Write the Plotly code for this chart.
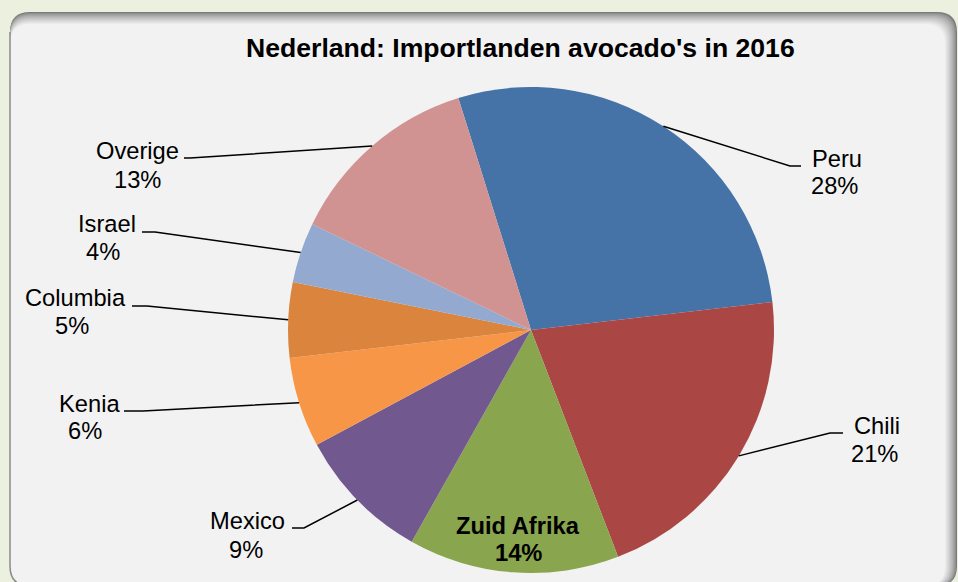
import math
import plotly.graph_objects as go

# ---------------- data ----------------
countries = ["Peru", "Chili", "Zuid Afrika", "Mexico", "Kenia", "Columbia", "Israel", "Overige"]
shares = [28, 21, 14, 9, 6, 5, 4, 13]
title_text = "Nederland: Importlanden avocado's in 2016"

# ---------------- style / layout ----------------
slice_colors = ["#4572A7", "#AA4643", "#89A54E", "#71588F", "#F79646", "#DB843D", "#93A9CF", "#D19392"]
W, H = 958, 582
CX, CY, R = 531, 330, 243          # pie centre / radius in px
ROTATION = -17.4                   # start angle (deg, clockwise from 12 o'clock)
FONT = "Arial, Liberation Sans, sans-serif"
LABEL_SIZE = 23.7
TITLE_SIZE = 26.6

# per-label placement: name centre, percent centre, elbow, line end (px)
label_layout = {
    "Peru":     dict(name=(837, 159), pct=(834, 186), elbow=(790, 166), end=(801, 166)),
    "Chili":    dict(name=(877, 426), pct=(874, 454), elbow=(830, 433), end=(843, 433)),
    "Mexico":   dict(name=(248, 521), pct=(246, 550), elbow=(304, 528), end=(292, 528)),
    "Kenia":    dict(name=(89, 404),  pct=(85, 431),  elbow=(143, 411), end=(124, 411)),
    "Columbia": dict(name=(75, 298),  pct=(72, 326),  elbow=(147, 306), end=(132, 306)),
    "Israel":   dict(name=(107, 224), pct=(103, 252), elbow=(155, 232), end=(142, 232)),
    "Overige":  dict(name=(137, 151), pct=(137, 180), elbow=(190, 158), end=(184, 158)),
}
inside_label = {"Zuid Afrika": dict(name=(518, 526), pct=(518, 553))}


def px(x):
    return x / W


def py(y):
    return 1 - y / H


fig = go.Figure()

fig.add_trace(go.Pie(
    labels=countries,
    values=shares,
    sort=False,
    direction="clockwise",
    rotation=ROTATION,
    marker=dict(colors=slice_colors, line=dict(width=0)),
    textinfo="none",
    hoverinfo="label+percent",
    showlegend=False,
    domain=dict(x=[px(CX - R), px(CX + R)], y=[py(CY + R), py(CY - R)]),
))

# ---------------- panel background with inner shadow ----------------
def rrect(x0, y0, x1, y1, r):
    return (f"M {px(x0 + r)},{py(y0)} L {px(x1 - r)},{py(y0)} "
            f"Q {px(x1)},{py(y0)} {px(x1)},{py(y0 + r)} "
            f"L {px(x1)},{py(y1 - r)} Q {px(x1)},{py(y1)} {px(x1 - r)},{py(y1)} "
            f"L {px(x0 + r)},{py(y1)} Q {px(x0)},{py(y1)} {px(x0)},{py(y1 - r)} "
            f"L {px(x0)},{py(y0 + r)} Q {px(x0)},{py(y0)} {px(x0 + r)},{py(y0)} Z")


def mix(c1, c2, t):
    a = [int(c1[i:i + 2], 16) for i in (1, 3, 5)]
    b = [int(c2[i:i + 2], 16) for i in (1, 3, 5)]
    return "#" + "".join(f"{round(a[i] + (b[i] - a[i]) * t):02x}" for i in range(3))


shapes = []
PX0, PY0, PX1, PY1, PR = 10, 12, 957, 586, 20
steps = 12
for k in range(steps + 1):
    t = (k / steps) ** 0.7
    col = mix("#7a7a7a", "#F2F2F2", t)
    shapes.append(dict(type="path", xref="paper", yref="paper", layer="below",
                       path=rrect(PX0, PY0 + k, PX1 - k, PY1, PR),
                       fillcolor=col, line=dict(width=0)))
# left / bottom thin border
shapes.append(dict(type="path", xref="paper", yref="paper", layer="below",
                   path=(f"M {px(PX0)},{py(PY0 + PR)} L {px(PX0)},{py(PY1 - PR)} "
                         f"Q {px(PX0)},{py(PY1)} {px(PX0 + PR)},{py(PY1)}"),
                   line=dict(color="#8a8a8a", width=1.5)))

# ---------------- leader lines & labels ----------------
annotations = []
total = sum(shares)
cum = 0
for name, val in zip(countries, shares):
    mid = ROTATION + (cum + val / 2) / total * 360
    cum += val
    a = math.radians(mid)
    ex, ey = CX + R * math.sin(a), CY - R * math.cos(a)
    if name in label_layout:
        L = label_layout[name]
        (bx, by), (fx, fy) = L["elbow"], L["end"]
        shapes.append(dict(type="path", xref="paper", yref="paper", layer="above",
                           path=f"M {px(ex)},{py(ey)} L {px(bx)},{py(by)} L {px(fx)},{py(fy)}",
                           line=dict(color="black", width=1.5)))
        for key, txt in (("name", name), ("pct", f"{val}%")):
            x, y = L[key]
            annotations.append(dict(x=px(x), y=py(y), xref="paper", yref="paper",
                                    text=txt, showarrow=False, xanchor="center", yanchor="middle",
                                    font=dict(family=FONT, size=LABEL_SIZE, color="black")))
    elif name in inside_label:
        L = inside_label[name]
        for key, txt in (("name", name), ("pct", f"{val}%")):
            x, y = L[key]
            annotations.append(dict(x=px(x), y=py(y), xref="paper", yref="paper",
                                    text=f"<b>{txt}</b>", showarrow=False, xanchor="center",
                                    yanchor="middle",
                                    font=dict(family=FONT, size=LABEL_SIZE, color="black")))

annotations.append(dict(x=px(520), y=py(48), xref="paper", yref="paper",
                        text=f"<b>{title_text}</b>", showarrow=False, xanchor="center",
                        yanchor="middle", font=dict(family=FONT, size=TITLE_SIZE, color="black")))

fig.update_layout(
    width=W, height=H,
    margin=dict(l=0, r=0, t=0, b=0),
    paper_bgcolor="#EBF1DE",
    plot_bgcolor="#EBF1DE",
    shapes=shapes,
    annotations=annotations,
)

fig.write_html("out.html",
               config={"displayModeBar": False},
               post_script="document.body.style.margin='0';document.body.style.overflow='hidden';")
